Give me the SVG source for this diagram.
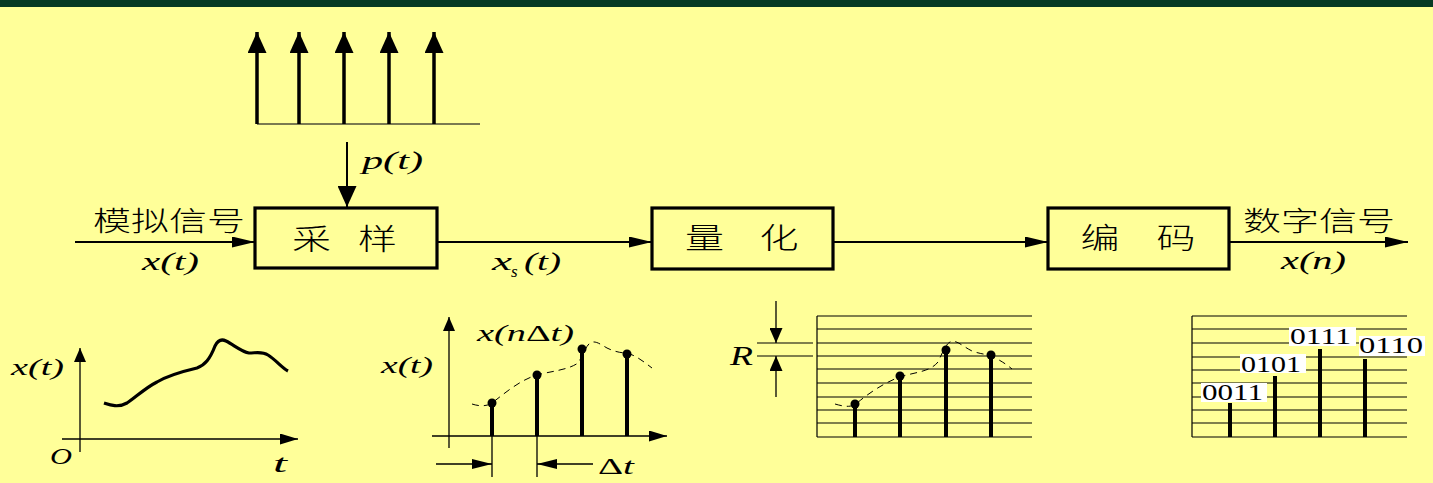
<svg xmlns="http://www.w3.org/2000/svg" width="1433" height="483" viewBox="0 0 1433 483">
<defs>
<style>
.ln{stroke:#000;stroke-width:2;fill:none}
.thin{stroke:#000;stroke-width:1.3;fill:none}
.box{stroke:#000;stroke-width:3.2;fill:none}
.stem{stroke:#000;stroke-width:4;fill:none}
.pulse{stroke:#000;stroke-width:3.5;fill:none}
.dash{stroke:#000;stroke-width:1;fill:none;stroke-dasharray:7,5}
.grid{stroke:#000;stroke-width:1.2;fill:none}
.cjk{font-family:"Noto Sans CJK SC",sans-serif;font-weight:300;fill:#000}
.m{font-family:"Liberation Serif",serif;font-style:italic;fill:#000}
.num{font-family:"Liberation Serif",serif;fill:#000;font-size:23px}
.up{font-style:normal}
.lbl{fill:#fff}
</style>
<marker id="big" markerUnits="userSpaceOnUse" markerWidth="21" markerHeight="19" refX="21" refY="9.5" orient="auto"><path d="M0,0 L21,9.5 L0,19 z" fill="#000"/></marker>
<marker id="ah" markerUnits="userSpaceOnUse" markerWidth="23" markerHeight="11" refX="23" refY="5.5" orient="auto"><path d="M0,0 L23,5.5 L0,11 z" fill="#000"/></marker>
<marker id="ax" markerUnits="userSpaceOnUse" markerWidth="18" markerHeight="11" refX="18" refY="5.5" orient="auto"><path d="M0,0 L18,5.5 L0,11 z" fill="#000"/></marker>
<marker id="ay" markerUnits="userSpaceOnUse" markerWidth="14" markerHeight="12" refX="14" refY="6" orient="auto"><path d="M0,0 L14,6 L0,12 z" fill="#000"/></marker>
<marker id="dim" markerUnits="userSpaceOnUse" markerWidth="20" markerHeight="10" refX="20" refY="5" orient="auto"><path d="M0,0 L20,5 L0,10 z" fill="#000"/></marker>
<marker id="rr" markerUnits="userSpaceOnUse" markerWidth="15" markerHeight="13" refX="15" refY="6.5" orient="auto"><path d="M0,0 L15,6.5 L0,13 z" fill="#000"/></marker>
</defs>
<rect x="0" y="0" width="1433" height="483" fill="#FFFF99"/>
<rect x="0" y="0" width="1433" height="7" fill="#073A24"/>

<g id="pulse-train">
<line x1="257" y1="124" x2="480" y2="124" stroke="#7a7a50" stroke-width="2"/>
<line class="pulse" x1="257" y1="124" x2="257" y2="32" marker-end="url(#big)"/>
<line class="pulse" x1="299" y1="124" x2="299" y2="32" marker-end="url(#big)"/>
<line class="pulse" x1="344" y1="124" x2="344" y2="32" marker-end="url(#big)"/>
<line class="pulse" x1="389" y1="124" x2="389" y2="32" marker-end="url(#big)"/>
<line class="pulse" x1="434" y1="124" x2="434" y2="32" marker-end="url(#big)"/>
</g>

<g id="connectors">
<line class="ln" x1="347" y1="142" x2="347" y2="207" marker-end="url(#big)"/>
<line class="ln" x1="75" y1="242" x2="255" y2="242" marker-end="url(#ah)"/>
<line class="ln" x1="437" y1="242" x2="652" y2="242" marker-end="url(#ah)"/>
<line class="ln" x1="833" y1="242" x2="1048" y2="242" marker-end="url(#ah)"/>
<line class="ln" x1="1229" y1="242" x2="1408" y2="242" marker-end="url(#ah)"/>
<text class="m" x="362" y="169" font-size="26" textLength="61" lengthAdjust="spacingAndGlyphs">p(t)</text>
<text class="cjk" x="93" y="231" font-size="27" textLength="152" lengthAdjust="spacingAndGlyphs">模拟信号</text>
<text class="m" x="142" y="270" font-size="26" textLength="57" lengthAdjust="spacingAndGlyphs">x(t)</text>
<text class="m" x="492" y="270" font-size="26" textLength="20" lengthAdjust="spacingAndGlyphs">x</text>
<text class="m" x="511" y="277" font-size="17">s</text>
<text class="m" x="524" y="270" font-size="26" textLength="37" lengthAdjust="spacingAndGlyphs">(t)</text>
<text class="cjk" x="1243" y="231" font-size="27" textLength="152" lengthAdjust="spacingAndGlyphs">数字信号</text>
<text class="m" x="1281" y="269" font-size="26" textLength="65" lengthAdjust="spacingAndGlyphs">x(n)</text>
</g>

<g id="node-sample">
<rect class="box" x="255" y="208" width="182" height="60"/>
<text class="cjk" x="292" y="250" font-size="29" textLength="39" lengthAdjust="spacingAndGlyphs">采</text>
<text class="cjk" x="358" y="250" font-size="29" textLength="39" lengthAdjust="spacingAndGlyphs">样</text>
</g>
<g id="node-quantize">
<rect class="box" x="652" y="208" width="181" height="61"/>
<text class="cjk" x="685" y="249" font-size="29" textLength="39" lengthAdjust="spacingAndGlyphs">量</text>
<text class="cjk" x="759.5" y="249" font-size="29" textLength="39" lengthAdjust="spacingAndGlyphs">化</text>
</g>
<g id="node-encode">
<rect class="box" x="1048" y="208" width="181" height="61"/>
<text class="cjk" x="1080.5" y="249" font-size="29" textLength="39" lengthAdjust="spacingAndGlyphs">编</text>
<text class="cjk" x="1156.5" y="249" font-size="29" textLength="39" lengthAdjust="spacingAndGlyphs">码</text>
</g>

<g id="plot-analog">
<line class="thin" x1="80" y1="452" x2="80" y2="348" marker-end="url(#ay)"/>
<line class="thin" x1="62" y1="439" x2="298" y2="439" marker-end="url(#ax)"/>
<path d="M104,403 C110,405 118,408 127,403 C135,398 145,388 157,382 C167,376 180,372 197,368 C205,365 210,359 215,346 C218,340 222,339 226,341 C234,345 242,352 249,353 C256,353 262,351 268,355 C276,360 282,368 288,371" stroke="#000" stroke-width="3.2" fill="none"/>
<text class="m" x="11" y="375" font-size="23" textLength="53" lengthAdjust="spacingAndGlyphs">x(t)</text>
<text class="m" x="50" y="464" font-size="23" textLength="22" lengthAdjust="spacingAndGlyphs">O</text>
<text class="m" x="273" y="472" font-size="26" textLength="14" lengthAdjust="spacingAndGlyphs">t</text>
</g>

<g id="plot-sampled">
<line class="thin" x1="449" y1="448" x2="449" y2="317" marker-end="url(#ay)"/>
<line class="thin" x1="432" y1="436" x2="667" y2="436" marker-end="url(#ax)"/>
<path class="dash" d="M472,404 C478,406 486,407 492,403 C505,393 520,380 537,375 C552,371 568,370 578,363 C583,356 585,347 590,343 C595,340 600,344 607,348 C615,352 622,353 627,353 C637,356 644,362 652,368"/>
<line class="stem" x1="492" y1="436" x2="492" y2="403"/>
<line class="stem" x1="537" y1="436" x2="537" y2="375"/>
<line class="stem" x1="582" y1="436" x2="582" y2="349"/>
<line class="stem" x1="627" y1="436" x2="627" y2="354"/>
<circle cx="492" cy="403" r="4.5"/>
<circle cx="537" cy="375" r="4.5"/>
<circle cx="582" cy="349" r="4.5"/>
<circle cx="627" cy="354" r="4.5"/>
<line class="thin" x1="492" y1="436" x2="492" y2="477"/>
<line class="thin" x1="537" y1="436" x2="537" y2="477"/>
<line class="thin" x1="436" y1="464" x2="492" y2="464" marker-end="url(#dim)"/>
<line class="thin" x1="593" y1="464" x2="537" y2="464" marker-end="url(#dim)"/>
<text class="m" x="381" y="373" font-size="23" textLength="52" lengthAdjust="spacingAndGlyphs">x(t)</text>
<text class="m" x="477" y="341" font-size="24" textLength="97" lengthAdjust="spacingAndGlyphs">x(n<tspan class="up">Δ</tspan>t)</text>
<text class="m" x="598" y="474" font-size="24" textLength="36" lengthAdjust="spacingAndGlyphs"><tspan class="up">Δ</tspan>t</text>
</g>

<g id="plot-quantized">
<path class="grid" d="M817,316 H1032 M817,329 H1032 M817,343 H1032 M817,356 H1032 M817,369 H1032 M817,383 H1032 M817,397 H1032 M817,410 H1032 M817,423 H1032 M817,437 H1032 M817,316 V437"/>
<path class="grid" d="M757,343 H813 M757,356 H813"/>
<line class="thin" x1="776" y1="301" x2="776" y2="343" marker-end="url(#rr)"/>
<line class="thin" x1="776" y1="397" x2="776" y2="356" marker-end="url(#rr)"/>
<text class="m" x="730" y="365" font-size="27" textLength="23" lengthAdjust="spacingAndGlyphs">R</text>
<path class="dash" d="M835,404 C842,406 850,408 856,404 C866,395 885,382 900,377 C915,372 930,372 938,362 C942,354 945,345 950,342 C956,339 962,346 972,351 C980,354 986,354 991,356 C1000,360 1006,364 1012,369"/>
<line class="stem" x1="855" y1="437" x2="855" y2="404"/>
<line class="stem" x1="900" y1="437" x2="900" y2="376"/>
<line class="stem" x1="946" y1="437" x2="946" y2="350"/>
<line class="stem" x1="991" y1="437" x2="991" y2="355"/>
<circle cx="855" cy="404" r="4.5"/>
<circle cx="900" cy="376" r="4.5"/>
<circle cx="946" cy="350" r="4.5"/>
<circle cx="991" cy="355" r="4.5"/>
</g>

<g id="plot-coded">
<path class="grid" d="M1192,316 H1407 M1192,329 H1407 M1192,343 H1407 M1192,357 H1407 M1192,370 H1407 M1192,383 H1407 M1192,397 H1407 M1192,410 H1407 M1192,423 H1407 M1192,437 H1407 M1192,316 V437"/>
<line class="stem" x1="1230" y1="437" x2="1230" y2="403"/>
<line class="stem" x1="1275" y1="437" x2="1275" y2="376"/>
<line class="stem" x1="1320" y1="437" x2="1320" y2="349"/>
<line class="stem" x1="1365" y1="437" x2="1365" y2="359"/>
<rect class="lbl" x="1201" y="383" width="66" height="19"/>
<rect class="lbl" x="1240" y="354" width="66" height="19"/>
<rect class="lbl" x="1289" y="327" width="67" height="19"/>
<rect class="lbl" x="1359" y="336" width="66" height="20"/>
<text class="num" x="1202" y="400" textLength="61" lengthAdjust="spacingAndGlyphs">0011</text>
<text class="num" x="1241" y="372" textLength="60" lengthAdjust="spacingAndGlyphs">0101</text>
<text class="num" x="1290" y="344" textLength="61" lengthAdjust="spacingAndGlyphs">0111</text>
<text class="num" x="1359" y="353" textLength="64" lengthAdjust="spacingAndGlyphs">0110</text>
</g>
</svg>
